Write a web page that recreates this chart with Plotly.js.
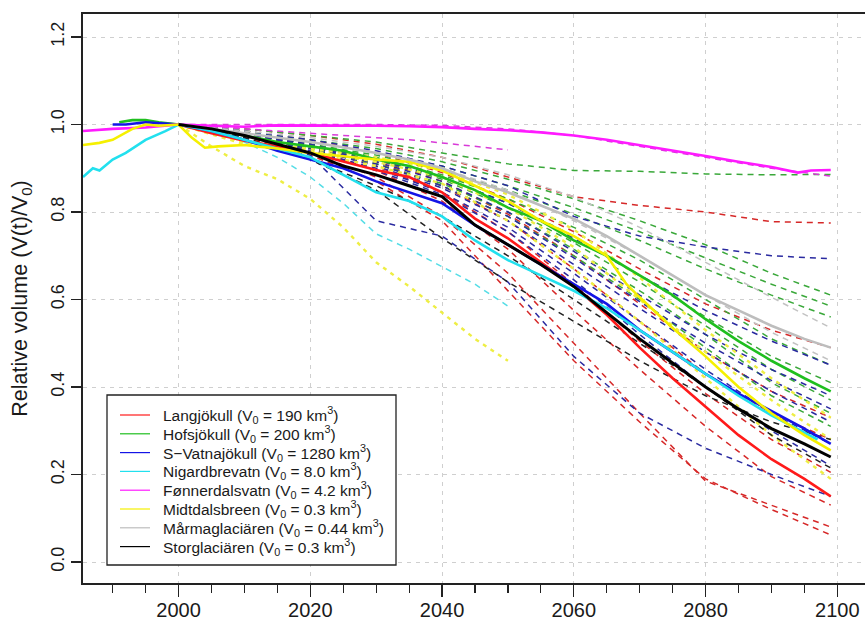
<!DOCTYPE html>
<html>
<head>
<meta charset="utf-8">
<script src="https://cdn.plot.ly/plotly-3.0.1.min.js"></script>
<style>html,body{margin:0;padding:0;background:#fff;}#chart{width:865px;height:623px;}</style>
</head>
<body>
<div id="chart"></div>
<script>
// ---------- DATA ----------
const glacierNames = [
  "Langjökull (V<sub>0</sub> = 190 km<sup>3</sup>)",
  "Hofsjökull (V<sub>0</sub> = 200 km<sup>3</sup>)",
  "S−Vatnajökull (V<sub>0</sub> = 1280 km<sup>3</sup>)",
  "Nigardbrevatn (V<sub>0</sub> = 8.0 km<sup>3</sup>)",
  "Fønnerdalsvatn (V<sub>0</sub> = 4.2 km<sup>3</sup>)",
  "Midtdalsbreen (V<sub>0</sub> = 0.3 km<sup>3</sup>)",
  "Mårmaglaciären (V<sub>0</sub> = 0.44 km<sup>3</sup>)",
  "Storglaciären (V<sub>0</sub> = 0.3 km<sup>3</sup>)"
];

// solid (reference) series
const langYears = [2000,2005,2010,2015,2020,2025,2030,2035,2040,2045,2050,2055,2060,2065,2070,2075,2080,2085,2090,2095,2099];
const langVol   = [1.0,0.98,0.963,0.95,0.935,0.915,0.896,0.88,0.845,0.785,0.74,0.685,0.63,0.565,0.49,0.42,0.355,0.29,0.235,0.19,0.15];

const hofsYears = [1991,1993,1995,1997,2000,2005,2010,2015,2020,2025,2030,2035,2040,2045,2050,2055,2060,2065,2070,2075,2080,2085,2090,2095,2099];
const hofsVol   = [1.005,1.01,1.01,1.005,1.0,0.99,0.975,0.96,0.95,0.94,0.92,0.905,0.88,0.85,0.81,0.78,0.735,0.70,0.655,0.61,0.555,0.505,0.46,0.42,0.39];

const vatnaYears = [1990,1992,1995,1997,2000,2005,2010,2015,2020,2025,2030,2035,2040,2045,2050,2055,2060,2065,2070,2075,2080,2085,2090,2095,2099];
const vatnaVol   = [1.0,1.0,1.005,1.003,1.0,0.985,0.965,0.94,0.92,0.9,0.87,0.845,0.82,0.77,0.725,0.68,0.635,0.59,0.53,0.48,0.43,0.385,0.345,0.305,0.27];

const nigardYears = [1985.5,1987,1988,1990,1992,1995,1998,2000,2005,2010,2015,2020,2025,2030,2035,2040,2045,2050,2055,2060,2065,2070,2075,2080,2085,2090,2095,2097];
const nigardVol   = [0.88,0.9,0.895,0.92,0.935,0.965,0.985,1.0,0.985,0.965,0.945,0.925,0.885,0.845,0.825,0.79,0.735,0.69,0.655,0.62,0.58,0.53,0.48,0.43,0.38,0.335,0.295,0.28];

const fonnerYears = [1985.5,1990,1995,2000,2005,2010,2015,2020,2025,2030,2035,2040,2045,2050,2055,2060,2065,2070,2075,2080,2085,2090,2094,2096,2099];
const fonnerVol   = [0.985,0.99,0.993,1.0,0.997,0.995,0.998,0.998,0.997,0.997,0.996,0.994,0.99,0.987,0.982,0.975,0.965,0.953,0.94,0.928,0.915,0.903,0.89,0.895,0.896];

const midtYears = [1985.5,1988,1990,1993,1995,1997,2000,2002,2004,2006,2010,2015,2020,2025,2030,2035,2040,2045,2050,2055,2060,2065,2068,2070,2075,2080,2085,2090,2095,2099];
const midtVol   = [0.953,0.958,0.965,0.99,1.0,0.997,1.0,0.97,0.947,0.95,0.953,0.945,0.935,0.928,0.92,0.915,0.895,0.86,0.825,0.78,0.745,0.70,0.635,0.605,0.535,0.47,0.40,0.34,0.29,0.255];

const marmaYears = [2000,2005,2010,2015,2020,2025,2030,2035,2040,2045,2050,2055,2060,2065,2070,2075,2080,2085,2090,2095,2099];
const marmaVol   = [1.0,0.99,0.98,0.97,0.96,0.948,0.935,0.92,0.9,0.87,0.845,0.815,0.785,0.745,0.70,0.655,0.61,0.575,0.54,0.51,0.49];

const storYears = [2000,2005,2010,2015,2020,2025,2030,2035,2040,2045,2050,2055,2060,2065,2070,2075,2080,2085,2090,2095,2099];
const storVol   = [1.0,0.99,0.975,0.955,0.935,0.905,0.885,0.86,0.835,0.77,0.725,0.68,0.63,0.57,0.51,0.455,0.40,0.35,0.305,0.27,0.24];

// dashed (scenario) series
const scenYears   = [2000,2010,2020,2030,2040,2050,2060,2070,2080,2090,2099];
const scenYears50 = [2000,2005,2010,2015,2020,2025,2030,2035,2040,2045,2050];

const langScen = [
  [1.0,0.99,0.975,0.955,0.925,0.88,0.835,0.815,0.80,0.778,0.775],
  [1.0,0.985,0.965,0.935,0.89,0.83,0.755,0.67,0.59,0.53,0.49],
  [1.0,0.98,0.955,0.92,0.87,0.795,0.70,0.59,0.48,0.39,0.33],
  [1.0,0.98,0.955,0.915,0.86,0.78,0.67,0.55,0.43,0.34,0.28],
  [1.0,0.975,0.95,0.905,0.845,0.755,0.635,0.505,0.385,0.28,0.205],
  [1.0,0.975,0.945,0.895,0.825,0.715,0.575,0.44,0.31,0.195,0.13],
  [1.0,0.97,0.935,0.88,0.79,0.66,0.50,0.34,0.185,0.13,0.08],
  [1.0,0.97,0.93,0.87,0.78,0.62,0.46,0.32,0.19,0.12,0.062]
];
const hofsScen = [
  [1.0,0.99,0.975,0.96,0.935,0.91,0.895,0.893,0.887,0.885,0.886],
  [1.0,0.985,0.965,0.945,0.915,0.875,0.83,0.78,0.725,0.66,0.61],
  [1.0,0.985,0.96,0.935,0.905,0.86,0.81,0.755,0.695,0.635,0.585],
  [1.0,0.98,0.955,0.93,0.895,0.85,0.795,0.735,0.67,0.61,0.56],
  [1.0,0.98,0.955,0.925,0.885,0.83,0.765,0.69,0.60,0.51,0.45],
  [1.0,0.98,0.95,0.92,0.88,0.82,0.745,0.655,0.56,0.47,0.41],
  [1.0,0.98,0.95,0.92,0.875,0.81,0.73,0.64,0.54,0.44,0.37],
  [1.0,0.975,0.945,0.91,0.865,0.80,0.715,0.62,0.52,0.41,0.34],
  [1.0,0.975,0.945,0.91,0.86,0.79,0.70,0.60,0.49,0.38,0.31]
];
const vatnaScen = [
  [1.0,0.985,0.965,0.94,0.905,0.86,0.79,0.745,0.72,0.70,0.693],
  [1.0,0.98,0.955,0.92,0.88,0.82,0.74,0.655,0.575,0.505,0.45],
  [1.0,0.98,0.95,0.915,0.87,0.80,0.71,0.61,0.52,0.44,0.38],
  [1.0,0.98,0.95,0.91,0.86,0.79,0.695,0.595,0.50,0.415,0.35],
  [1.0,0.975,0.945,0.905,0.855,0.78,0.68,0.58,0.48,0.39,0.32],
  [1.0,0.975,0.94,0.9,0.845,0.765,0.66,0.55,0.44,0.34,0.27],
  [1.0,0.975,0.94,0.895,0.84,0.755,0.645,0.52,0.40,0.30,0.22],
  [1.0,0.975,0.93,0.78,0.745,0.64,0.47,0.34,0.26,0.20,0.15]
];
const nigardScen50 = [
  [1.0,0.985,0.96,0.925,0.88,0.82,0.75,0.715,0.675,0.635,0.585]
];
const fonnerScen = [
  [1.0,1.0,1.0,1.0,0.998,0.99,0.975,0.95,0.925,0.90,0.882]
];
const fonnerScen50 = [
  [1.0,0.995,0.99,0.985,0.98,0.975,0.97,0.965,0.958,0.95,0.942]
];
const midtScen = [
  [1.0,0.955,0.935,0.905,0.865,0.78,0.67,0.55,0.42,0.29,0.19],
  [1.0,0.96,0.94,0.915,0.88,0.81,0.72,0.60,0.48,0.37,0.28],
  [1.0,0.96,0.945,0.925,0.895,0.84,0.76,0.65,0.53,0.42,0.33]
];
const midtScen50 = [
  [1.0,0.95,0.905,0.875,0.83,0.765,0.685,0.63,0.57,0.51,0.46]
];
const marmaScen = [
  [1.0,0.985,0.97,0.95,0.925,0.885,0.835,0.765,0.685,0.605,0.535],
  [1.0,0.98,0.96,0.935,0.90,0.85,0.78,0.70,0.61,0.525,0.46]
];
const storScen = [
  [1.0,0.97,0.92,0.86,0.79,0.70,0.60,0.50,0.40,0.29,0.215],
  [1.0,0.97,0.92,0.85,0.74,0.64,0.55,0.46,0.38,0.32,0.28]
];

// ---------- STYLE ----------
const solidColors = ["#ff1a1a","#1fbf1f","#1414e6","#22e0ee","#ff1aff","#f5f000","#bdbdbd","#000000"];
const dashColors  = ["#d62828","#3aa83a","#2a2aa0","#55dde6","#d83ad8","#eeee44","#c2c2c2","#222222"];

const traces = [];
function addScen(list, years, idx){
  list.forEach(v => traces.push({
    x: years, y: v, type: "scatter", mode: "lines", showlegend: false, hoverinfo: "skip",
    line: {color: dashColors[idx], width: idx===5 ? 2.4 : 1.5, dash: idx===5 ? "4px,5px" : "6px,5px"}
  }));
}
addScen(langScen, scenYears, 0);
addScen(hofsScen, scenYears, 1);
addScen(vatnaScen, scenYears, 2);
addScen(nigardScen50, scenYears50, 3);
addScen(fonnerScen, scenYears, 4);
addScen(fonnerScen50, scenYears50, 4);
addScen(midtScen, scenYears, 5);
addScen(midtScen50, scenYears50, 5);
addScen(marmaScen, scenYears, 6);
addScen(storScen, scenYears, 7);

const solid = [
  [langYears, langVol], [hofsYears, hofsVol], [vatnaYears, vatnaVol], [nigardYears, nigardVol],
  [fonnerYears, fonnerVol], [midtYears, midtVol], [marmaYears, marmaVol], [storYears, storVol]
];
solid.forEach((s, i) => traces.push({
  x: s[0], y: s[1], type: "scatter", mode: "lines", name: glacierNames[i], showlegend: false, hoverinfo: "skip",
  line: {color: solidColors[i], width: i===7 ? 3 : 2.6}
}));

// ---------- custom legend (box, thin line samples, labels) ----------
const FONT = "Liberation Sans, Arial, Helvetica, sans-serif";
const PL = 83, PR = 865, PT = 14, PB = 583;           // plot area in px
const px2x = p => (p - PL) / (PR - PL);
const px2y = p => (PB - p) / (PB - PT);
const legTop = 415, legStep = 18.8;
const shapes = [{
  type: "rect", xref: "paper", yref: "paper", layer: "above",
  x0: px2x(107), x1: px2x(396), y0: px2y(565), y1: px2y(395),
  fillcolor: "#ffffff", line: {color: "#222", width: 1.3}
}];
const annotations = [];
glacierNames.forEach((n, i) => {
  const yy = px2y(legTop + i * legStep);
  shapes.push({type: "line", xref: "paper", yref: "paper", layer: "above",
    x0: px2x(120), x1: px2x(150), y0: yy, y1: yy, line: {color: solidColors[i], width: 1.2}});
  annotations.push({xref: "paper", yref: "paper", x: px2x(161), y: yy, xanchor: "left", yanchor: "middle",
    text: n, showarrow: false, font: {size: 15.5, family: FONT, color: "#1a1a1a"}});
});

const layout = {
  width: 865, height: 623,
  margin: {l: PL, r: 865 - PR, t: PT, b: 623 - PB, pad: 0},
  paper_bgcolor: "#ffffff", plot_bgcolor: "#ffffff",
  font: {family: FONT, color: "#1a1a1a"},
  showlegend: false,
  xaxis: {
    range: [1985.5, 2104.2], tick0: 2000, dtick: 20,
    ticks: "outside", ticklen: 12, tickwidth: 1.2, tickcolor: "#222",
    showline: true, linecolor: "#222", linewidth: 1.6, mirror: true,
    showgrid: true, gridcolor: "#cfcfcf", griddash: "4px,5px", gridwidth: 1,
    zeroline: false, tickfont: {size: 20, family: FONT, color: "#1a1a1a"},
    ticklabelstandoff: -4,
    minor: {dtick: 5, tick0: 1990, ticks: "outside", ticklen: 8, tickwidth: 1.2, tickcolor: "#222", showgrid: false}
  },
  yaxis: {
    range: [-0.048, 1.2526], tick0: 0, dtick: 0.2, tickformat: ".1f",
    tickangle: -90, ticks: "outside", ticklen: 10, tickwidth: 1.2, tickcolor: "#222",
    showline: true, linecolor: "#222", linewidth: 1.6, mirror: false,
    showgrid: true, gridcolor: "#cfcfcf", griddash: "4px,5px", gridwidth: 1,
    zeroline: false, tickfont: {size: 18, family: FONT, color: "#1a1a1a"},
    title: {text: "Relative volume (V(t)/V<sub>0</sub>)", font: {size: 21.5, family: FONT, color: "#1a1a1a"}, standoff: 14}
  },
  shapes: shapes,
  annotations: annotations
};

Plotly.newPlot("chart", traces, layout, {displayModeBar: false, staticPlot: true});
</script>
</body>
</html>
